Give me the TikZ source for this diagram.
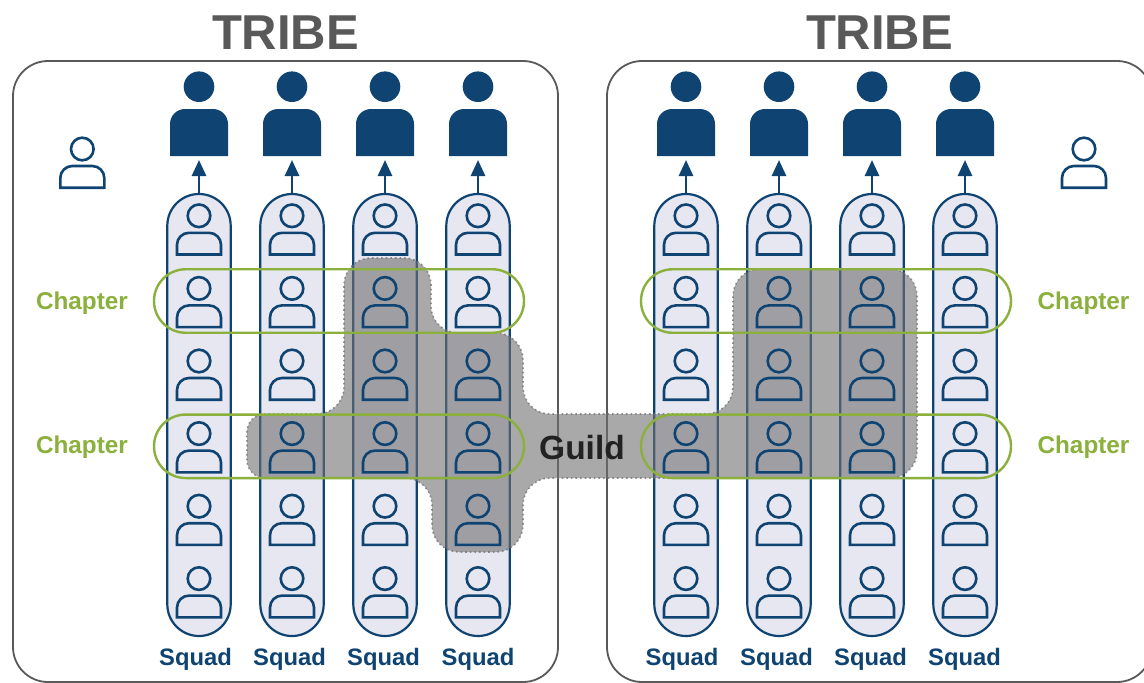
\documentclass[tikz,border=0pt]{standalone}
\usepackage{fontspec}
\setmainfont{Liberation Sans}
\usetikzlibrary{arrows.meta}
\definecolor{navy}{HTML}{0F4472}
\definecolor{capfill}{HTML}{E6E7F0}
\definecolor{framegray}{HTML}{595959}
\definecolor{chapgreen}{HTML}{8BB03C}
\definecolor{guildgray}{HTML}{707070}
\definecolor{guildtext}{HTML}{222222}
\tikzset{
  x=1pt,y=-1pt,
  tribebox/.style={draw=framegray,line width=1.8pt,fill=white,rounded corners=35pt},
  tribetitle/.style={text=framegray,font=\fontsize{49}{49}\selectfont\bfseries,inner sep=0pt},
  squadcap/.style={draw=navy,fill=capfill,line width=2.2pt,rounded corners=31.7pt,minimum width=63.4pt,minimum height=442pt,inner sep=0pt,outer sep=0pt},
  chapcap/.style={draw=chapgreen,line width=2.4pt,rounded corners=31.7pt,minimum width=370pt,minimum height=63.5pt,inner sep=0pt,outer sep=0pt},
  chaplabel/.style={text=chapgreen,font=\fontsize{24.3}{24.3}\selectfont\bfseries,inner sep=0pt},
  squadlabel/.style={text=navy,font=\fontsize{23.8}{24}\selectfont\bfseries,inner sep=0pt},
  guildarea/.style={fill=guildgray,fill opacity=0.6,draw=guildgray,draw opacity=0.75,line width=1.6pt,dash pattern=on 1.6pt off 3pt},
  guildlabel/.style={text=guildtext,font=\fontsize{33.5}{34}\selectfont\bfseries,inner sep=0pt},
  promote/.style={draw=navy,line width=2.7pt,-{Triangle[length=16pt,width=14pt]}},
  person/.pic={
    \draw[navy,line width=2.6pt] (0,0) circle[radius=11.3];
    \draw[navy,line width=2.6pt,line join=miter] (-22,38.7) -- (-22,29) arc[start angle=180,end angle=270,radius=12] -- (10,17) arc[start angle=270,end angle=360,radius=12] -- (22,38.7) -- cycle;
  },
  bigperson/.pic={
    \fill[navy] (0,0) circle[radius=15.3];
    \fill[navy] (-29,69.3) -- (-29,37.3) arc[start angle=180,end angle=270,radius=15] -- (14,22.3) arc[start angle=270,end angle=360,radius=15] -- (29,69.3) -- cycle;
  },
}
\begin{document}
\begin{tikzpicture}
\useasboundingbox (0,0) rectangle (1144,683);
\clip (0,0) rectangle (1144,683);
\fill[white] (0,0) rectangle (1144,683);
% tribes
\draw[tribebox] (13,61) rectangle (558,682);
\draw[tribebox] (607,61) rectangle (1152,682);
\node[tribetitle] (titleL) at (285.5,33) {TRIBE};
\node[tribetitle] (titleR) at (879.5,33) {TRIBE};
% squads
\foreach \i/\x/\lx in {1/199/195.5,2/292/289.5,3/385/383.5,4/478/478,5/686/682,6/779/776.5,7/872/870.5,8/965/964.5}{
  \node[squadcap] (sq\i) at (\x,415) {};
  \coordinate (lead\i) at (\x,160);
  \draw[promote] (sq\i.north) -- (lead\i);
  \node[squadlabel] (sqname\i) at (\lx,659.5) {Squad};
  \pic at (\x,86.7) {bigperson};
}
% guild
\draw[guildarea,rounded corners=27pt] (300,414) -- (344,414) -- (344,258) -- (431,258) -- (431,333) -- (523,333) -- (523,414) -- (733,414) -- (733,269) -- (917,269) -- (917,478) -- (523,478) -- (523,552) -- (432,552) -- (432,478) [rounded corners=18pt] -- (247,478) -- (247,414) -- cycle;
% chapters
\foreach \n/\x/\y in {a/339/301,b/339/446.3,c/826/301,d/826/446.3}{
  \node[chapcap] (chap\n) at (\x,\y) {};
}
\node[chaplabel] (chaptxta) at (82,303) {Chapter};
\node[chaplabel] (chaptxtb) at (82,447.5) {Chapter};
\node[chaplabel] (chaptxtc) at (1083.5,303) {Chapter};
\node[chaplabel] (chaptxtd) at (1083.5,447.5) {Chapter};
% members
\foreach \x in {199,292,385,478,686,779,872,965}{
  \foreach \y in {215.8,288.4,361,433.6,506.2,578.6}{
    \pic at (\x,\y) {person};
  }
}
% agile coaches
\pic at (82.3,149) {person};
\pic at (1084,149) {person};
\node[guildlabel] (guildname) at (582,448) {Guild};
\end{tikzpicture}
\end{document}
